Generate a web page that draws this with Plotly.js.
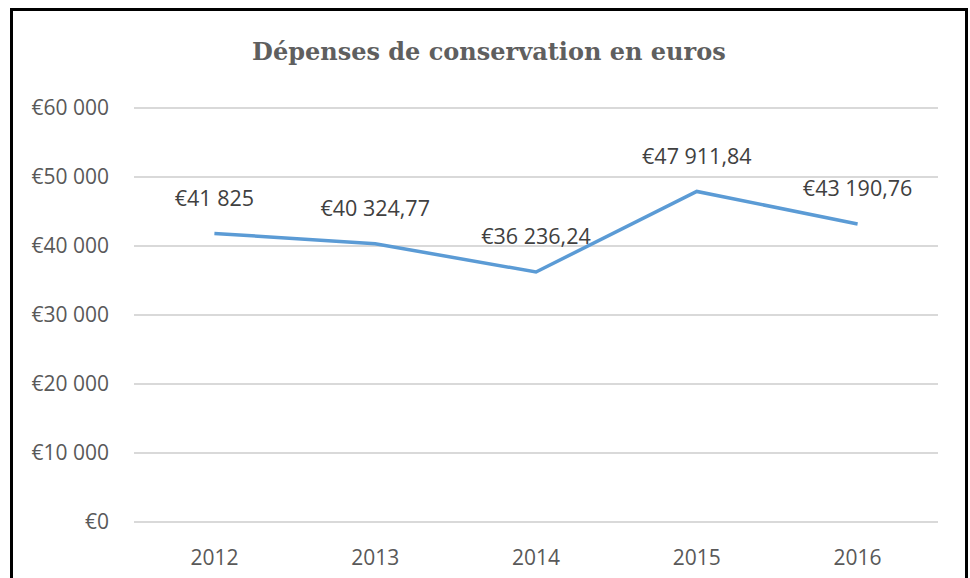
<!DOCTYPE html>
<html>
<head>
<meta charset="utf-8">
<script src="https://cdn.plot.ly/plotly-3.0.1.min.js"></script>
<style>
  html, body { margin: 0; padding: 0; background: #fff; }
  #wrap { position: relative; width: 970px; height: 578px; overflow: hidden; }
  #chart { width: 970px; height: 578px; }
  #frame {
    position: absolute; left: 10px; top: 8px; width: 952px; height: 590px;
    border: 3px solid #000; pointer-events: none;
  }
</style>
</head>
<body>
<div id="wrap">
  <div id="chart"></div>
  <div id="frame"></div>
</div>
<script>
// Données
const years = ['2012', '2013', '2014', '2015', '2016'];
const depenses = [41825, 40324.77, 36236.24, 47911.84, 43190.76];
const yMax = 60000;
const yStep = 10000;

const labelFont = 'Open Sans, Noto Sans, Liberation Sans, sans-serif';

const trace = {
  x: years,
  y: depenses,
  type: 'scatter',
  mode: 'lines+markers+text',
  line: { color: '#5B9BD5', width: 3.5 },
  marker: { size: 34, color: 'rgba(0,0,0,0)' },
  texttemplate: depenses.map(v => Number.isInteger(v) ? '€%{y:,d}' : '€%{y:,.2f}'),
  textposition: 'top center',
  textfont: { family: labelFont, size: 21.5, color: '#404040' },
  hoverinfo: 'skip',
  cliponaxis: false
};

const layout = {
  width: 970,
  height: 578,
  separators: ', ',
  paper_bgcolor: '#fff',
  plot_bgcolor: '#fff',
  // marge un peu réduite pour que les lignes 0 et 60 000 restent dessinées
  margin: { l: 134, r: 32, t: 106, b: 54 },
  showlegend: false,
  title: {
    text: 'Dépenses de conservation en euros',
    font: { family: 'DejaVu Serif, Liberation Serif, serif', size: 24, weight: 'bold', color: '#5f5f5f' },
    x: 0.504,
    xanchor: 'center',
    y: 0.91,
    yanchor: 'middle'
  },
  xaxis: {
    type: 'category',
    range: [-0.5, 4.5],
    showgrid: false,
    zeroline: false,
    showline: false,
    ticks: '',
    ticklabelstandoff: 19,
    tickfont: { family: labelFont, size: 21, color: '#595959' }
  },
  yaxis: {
    range: [-300, yMax + 300],
    tickmode: 'linear',
    tick0: 0,
    dtick: yStep,
    tickprefix: '€',
    tickformat: ',d',
    showgrid: true,
    gridcolor: '#d9d9d9',
    gridwidth: 1.5,
    zeroline: false,
    showline: false,
    ticks: '',
    ticklabelstandoff: 24,
    tickfont: { family: labelFont, size: 21, color: '#595959' }
  }
};

Plotly.newPlot('chart', [trace], layout, { staticPlot: true });
</script>
</body>
</html>
